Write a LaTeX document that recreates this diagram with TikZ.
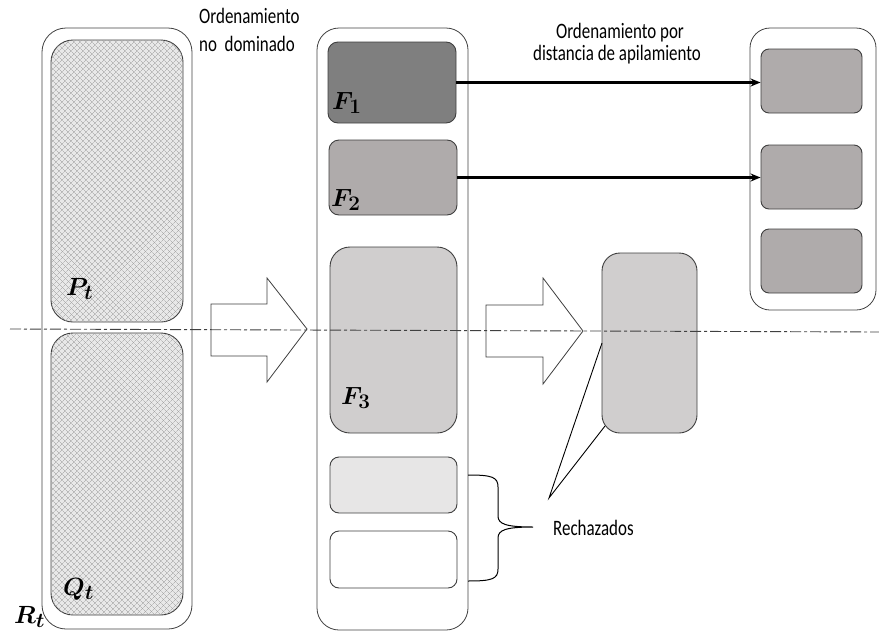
\documentclass[tikz,border=0pt]{standalone}
\usepackage{fontspec}
\usepackage{bm}
\usetikzlibrary{patterns.meta,arrows.meta}
\newfontfamily\calib[FakeStretch=0.77]{Carlito}
\definecolor{edgec}{HTML}{3F3F3F}
\definecolor{fone}{HTML}{7F7F7F}
\definecolor{ftwo}{HTML}{AFABAB}
\definecolor{fthree}{HTML}{D0CECE}
\definecolor{flight}{HTML}{E7E6E6}
\definecolor{hatchbg}{HTML}{E8E8E8}
\tikzset{
  box/.style={draw=edgec, line width=0.9pt, inner sep=0pt, rectangle},
  outerbox/.style={draw=black!75, line width=0.8pt, inner sep=0pt, rectangle, rounded corners=24pt},
  hatched/.style={box, rounded corners=22pt, fill=hatchbg,
    postaction={pattern={Lines[angle=45,distance=4pt,line width=0.4pt]}, pattern color=black!38},
    postaction={pattern={Lines[angle=-45,distance=4pt,line width=0.4pt]}, pattern color=black!38}},
  lbl/.style={font=\calib\fontsize{22}{26}\selectfont, inner sep=0pt, anchor=base west},
  mlbl/.style={font=\fontsize{28}{32}\selectfont, inner sep=0pt, anchor=base west},
  bigarrow/.style={draw=edgec, line width=0.8pt, fill=white},
  conn/.style={line width=2.4pt, -{Stealth[length=10pt,width=8pt]}},
}
\begin{document}
\begin{tikzpicture}[x=1pt,y=-1pt]
\useasboundingbox (0,0) rectangle (879,635);
% left column
\node[outerbox, minimum width=150pt, minimum height=601pt] (L) at (117,328.5) {};
\node[hatched, minimum width=132pt, minimum height=282pt] (P) at (117,181) {};
\node[hatched, minimum width=132pt, minimum height=282pt] (Q) at (117,474) {};
\node[mlbl] (Pt) at (66,295) {$\bm{P_t}$};
\node[mlbl] (Qt) at (63,595) {$\bm{Q_t}$};
\node[mlbl] (Rt) at (14,623) {$\bm{R_t}$};
% middle column
\node[outerbox, rounded corners=22pt, minimum width=151pt, minimum height=602pt] (M) at (392.5,329) {};
\node[box, rounded corners=10pt, fill=fone, minimum width=128pt, minimum height=81pt] (F1) at (392,82.5) {};
\node[box, rounded corners=10pt, fill=ftwo, minimum width=128pt, minimum height=75pt] (F2) at (393,177.5) {};
\node[box, rounded corners=20pt, fill=fthree, minimum width=127pt, minimum height=186pt] (F3) at (393.5,340) {};
\node[box, rounded corners=9pt, fill=flight, minimum width=127pt, minimum height=56pt] (G) at (393.5,485) {};
\node[box, rounded corners=9pt, fill=white, minimum width=127pt, minimum height=57pt] (W) at (393.5,559.5) {};
\node[mlbl] (F1l) at (332,109) {$\bm{F_1}$};
\node[mlbl] (F2l) at (331,206) {$\bm{F_2}$};
\node[mlbl] (F3l) at (341,404) {$\bm{F_3}$};
% right parts
\node[box, rounded corners=18pt, fill=fthree, minimum width=95pt, minimum height=180pt] (F3r) at (649.5,343) {};
\node[outerbox, rounded corners=20pt, minimum width=126pt, minimum height=282pt] (S) at (813,169) {};
\node[box, rounded corners=8pt, fill=ftwo, minimum width=101pt, minimum height=64pt] (R1) at (811.5,81) {};
\node[box, rounded corners=8pt, fill=ftwo, minimum width=101pt, minimum height=64pt] (R2) at (811.5,177) {};
\node[box, rounded corners=8pt, fill=ftwo, minimum width=101pt, minimum height=64pt] (R3) at (811.5,261) {};
% block arrows
\draw[bigarrow] (211,304) -- (267,304) -- (267,278) -- (307,329) -- (267,382) -- (267,356) -- (211,356) -- cycle;
\draw[bigarrow] (486,305) -- (543,305) -- (543,278) -- (583,331) -- (543,384) -- (543,357) -- (486,357) -- cycle;
% dash-dot line
\draw[black!75, line width=0.9pt, dash pattern=on 11pt off 3pt on 3pt off 3pt] (10,329) -- (879,332);
% connectors
\draw[conn] (F1.east) -- (F1.east -| R1.west);
\draw[conn] (F2.east) -- (F2.east -| R2.west);
% callout
\coordinate (c1) at (602,343);
\coordinate (c2) at (549,498);
\coordinate (c3) at (605,426);
\draw[black, line width=0.9pt] (c1) -- (c2) -- (c3);
% brace
\coordinate (b1) at (468,475);
\coordinate (b2) at (468,581);
\coordinate (bt) at (533,527);
\draw[black, line width=1pt] (b1) .. controls (492,475) and (498,477) .. (498,487) -- (498,516)
  .. controls (498,524) and (506,527) .. (bt)
  (b2) .. controls (492,581) and (498,579) .. (498,569) -- (498,538)
  .. controls (498,530) and (506,527) .. (bt);
% texts
\node[lbl] (t1) at (199,23) {Ordenamiento};
\node[lbl] (t2) at (199,51) {no~ dominado};
\node[lbl, anchor=base] (t3) at (620,38) {Ordenamiento por};
\node[lbl, anchor=base] (t4) at (617,60) {distancia de apilamiento};
\node[lbl] (t5) at (553,535) {Rechazados};
\end{tikzpicture}
\end{document}
